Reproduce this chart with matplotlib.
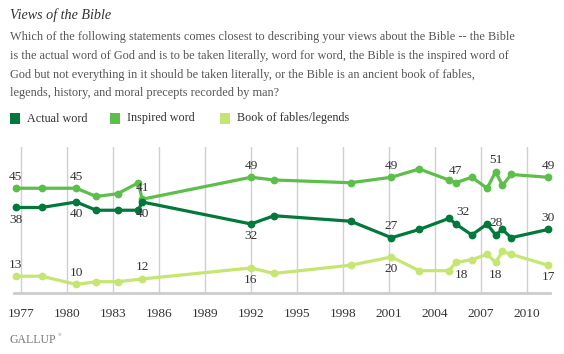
import numpy as np
import matplotlib.pyplot as plt

# survey dates (fractional years)
years = [1976.65, 1978.35, 1980.6, 1981.9, 1983.3, 1984.65, 1984.9, 1992.0, 1993.5, 1998.5,
         2001.16, 2002.97, 2004.9, 2005.36, 2006.4, 2007.4, 2007.95, 2008.4, 2008.96, 2011.37]
actual = [38, 38, 40, 37, 37, 37, 40, 32, 35, 33, 27, 30, 34, 32, 28, 32, 28, 30, 27, 30]
inspired = [45, 45, 45, 42, 43, 47, 41, 49, 48, 47, 49, 52, 48, 47, 49, 45, 51, 46, 50, 49]
years_book = [1976.65, 1978.35, 1980.6, 1981.9, 1983.3, 1984.9, 1992.0, 1993.5, 1998.5,
              2001.16, 2002.97, 2004.9, 2005.36, 2006.4, 2007.4, 2007.95, 2008.4, 2008.96, 2011.37]
book = [13, 13, 10, 11, 11, 12, 16, 14, 17, 20, 15, 15, 18, 19, 21, 18, 22, 21, 17]
xticks = list(range(1977, 2011, 3))

# labelled points: (index, above?, x nudge in points)
lab_actual = [(0, False, 0), (2, False, 0), (6, False, 0), (7, False, 0), (10, True, 0),
              (13, True, 5), (16, True, 0), (19, True, 0)]
lab_inspired = [(0, True, 0), (2, True, 0), (6, True, 0), (7, True, 0), (10, True, 0),
                (13, True, 0), (16, True, 0), (19, True, 0)]
lab_book = [(0, True, 0), (2, True, 0), (5, True, 0), (6, False, 0), (9, False, 0),
            (12, False, 4), (15, False, 0), (18, False, 0)]

c_dark = '#00793a'
c_mid = '#5cbf4a'
c_light = '#c5e670'
serif = 'Liberation Serif'

W, H = 564, 354
fig = plt.figure(figsize=(W / 100, H / 100), dpi=100)

def ftext(x, y, s, **kw):
    fig.text(x / W, 1 - y / H, s, family=serif, **kw)

ftext(10, 15, 'Views of the Bible', fontsize=10.2, style='italic', color='#333333', va='center')
lines = ['Which of the following statements comes closest to describing your views about the Bible -- the Bible',
         'is the actual word of God and is to be taken literally, word for word, the Bible is the inspired word of',
         'God but not everything in it should be taken literally, or the Bible is an ancient book of fables,',
         'legends, history, and moral precepts recorded by man?']
for i, l in enumerate(lines):
    ftext(10, 37 + i * 18.8, l, fontsize=8.8, color='#555555', va='center')

leg = [('Actual word', c_dark, 10), ('Inspired word', c_mid, 110), ('Book of fables/legends', c_light, 220)]
for name, col, x in leg:
    fig.patches.append(plt.Rectangle((x / W, 1 - 124 / H), 10 / W, 11 / H, transform=fig.transFigure,
                                     facecolor=col, edgecolor='none'))
    ftext(x + 17, 118.5, name, fontsize=8.7, color='#333333', va='center')

ftext(10, 340, 'GALLUP', fontsize=8.5, color='#777777', va='center')
ftext(58, 335, '\u00ae', fontsize=3.5, color='#777777', va='center')

ax = fig.add_axes([14 / W, 1 - 292.7 / H, (550 - 14) / W, (292.7 - 147) / H])
ax.set_xlim(1976.54, 2011.5)
ax.set_ylim(7, 60)
for t in xticks:
    ax.axvline(t, color='#d0d0d0', lw=1, zorder=0)
for s in ['top', 'right', 'left']:
    ax.spines[s].set_visible(False)
ax.spines['bottom'].set_color('#cccccc')
ax.spines['bottom'].set_linewidth(2)
ax.set_yticks([])
ax.set_xticks(xticks)
ax.tick_params(axis='x', length=0, pad=11, labelsize=9.6, labelcolor='#333333')
for lbl in ax.get_xticklabels():
    lbl.set_family(serif)

ax.plot(years_book, book, color=c_light, lw=2.3, marker='o', ms=4.6, zorder=3, clip_on=False)
ax.plot(years, inspired, color=c_mid, lw=2.3, marker='o', ms=4.6, zorder=4, clip_on=False)
ax.plot(years, actual, color=c_dark, lw=2.3, marker='o', ms=4.6, zorder=5, clip_on=False)

def label(xs, vals, specs):
    for i, up, dx in specs:
        ax.annotate(str(vals[i]), (xs[i], vals[i]), xytext=(dx, 4 if up else -4.5),
                    textcoords='offset points', ha='center', va='bottom' if up else 'top',
                    fontsize=9.6, color='#333333', family=serif, zorder=6)

label(years, actual, lab_actual)
label(years, inspired, lab_inspired)
label(years_book, book, lab_book)

fig.savefig('out.png', dpi=100)
